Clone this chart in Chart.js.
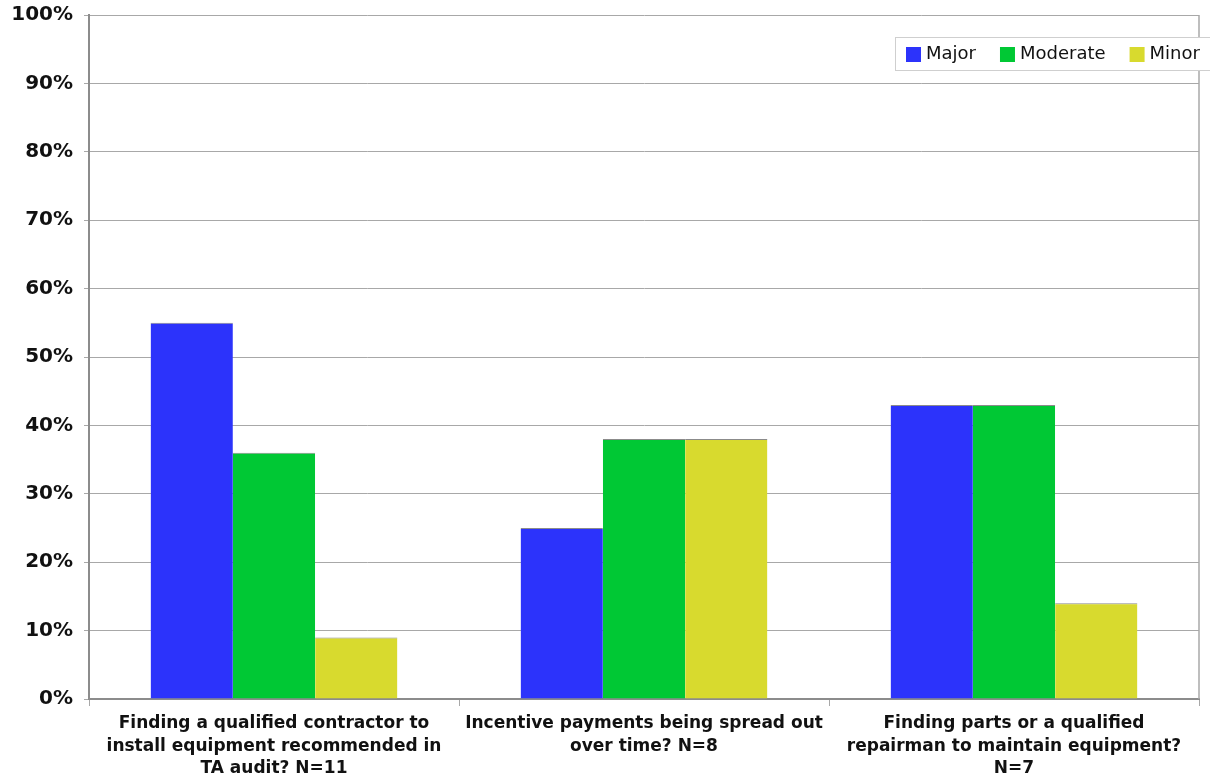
<!DOCTYPE html>
<html>
<head>
<meta charset="utf-8">
<script src="https://cdn.jsdelivr.net/npm/chart.js@4.4.1/dist/chart.umd.min.js"></script>
<style>
  html, body { margin: 0; padding: 0; background: #fff; }
  #wrap { width: 1210px; height: 780px; position: relative; }
</style>
</head>
<body>
<div id="wrap"><canvas id="chart"></canvas></div>
<script>
const categories = [
    ['Finding a qualified contractor to', 'install equipment recommended in', 'TA audit? N=11'],
    ['Incentive payments being spread out', 'over time? N=8'],
    ['Finding parts or a qualified', 'repairman to maintain equipment?', 'N=7']
];
const seriesNames = ['Major', 'Moderate', 'Minor'];
const major = [55, 25, 43];
const moderate = [36, 38, 43];
const minor = [9, 38, 14];
const yTicks = [0, 10, 20, 30, 40, 50, 60, 70, 80, 90, 100];

const colors = ['#2c33fb', '#00c834', '#d8da2e'];
const gridGray = '#a8a8a8';
const axisGray = '#8c8c8c';

// boxed legend sitting over the top right corner of the plot
const boxLegend = {
    id: 'boxLegend',
    afterDraw(chart) {
        const ctx = chart.ctx;
        const left = 895, top = 37, height = 33;
        ctx.save();
        ctx.font = '18px "DejaVu Sans", Verdana, sans-serif';
        ctx.textBaseline = 'middle';
        let x = left + 11;
        const items = chart.data.datasets.map(ds => {
            const w = ctx.measureText(ds.label).width;
            const item = { x: x, label: ds.label, color: ds.backgroundColor };
            x += 20 + w + 24;
            return item;
        });
        ctx.fillStyle = '#fff';
        ctx.fillRect(left, top, 1210 - left, height);
        ctx.strokeStyle = '#cfcfcf';
        ctx.lineWidth = 1;
        ctx.strokeRect(left + 0.5, top + 0.5, 1210 - left, height);
        items.forEach(it => {
            ctx.fillStyle = it.color;
            ctx.fillRect(it.x, top + 10, 15, 15);
            ctx.fillStyle = '#111';
            ctx.fillText(it.label, it.x + 20, top + height / 2 + 1);
        });
        ctx.restore();
    }
};

// right edge of the plot frame
const plotFrame = {
    id: 'plotFrame',
    beforeDatasetsDraw(chart) {
        const a = chart.chartArea;
        const ctx = chart.ctx;
        ctx.save();
        ctx.strokeStyle = gridGray;
        ctx.lineWidth = 1.5;
        ctx.beginPath();
        ctx.moveTo(a.right, a.top);
        ctx.lineTo(a.right, a.bottom);
        ctx.stroke();
        ctx.restore();
    }
};

const values = [major, moderate, minor];

new Chart(document.getElementById('chart'), {
    type: 'bar',
    data: {
        labels: categories,
        datasets: seriesNames.map((name, i) => ({
            label: name,
            data: values[i],
            backgroundColor: colors[i],
            borderColor: 'rgba(90,90,90,0.7)',
            borderWidth: { top: 1, left: 0, right: 0, bottom: 0 },
            borderSkipped: false,
            barPercentage: 1,
            categoryPercentage: 0.667
        }))
    },
    options: {
        responsive: true,
        maintainAspectRatio: false,
        animation: false,
        layout: { padding: { top: 15, right: 11, left: 0, bottom: 0 } },
        plugins: {
            legend: { display: false },
            tooltip: { enabled: false }
        },
        scales: {
            x: {
                afterFit(scale) {
                    scale.height = 81;
                    scale.paddingLeft = 0;
                    scale.paddingRight = 0;
                },
                grid: {
                    drawOnChartArea: false,
                    tickLength: 7,
                    tickColor: gridGray
                },
                border: { color: axisGray, width: 2 },
                ticks: {
                    color: '#111',
                    padding: 7,
                    maxRotation: 0,
                    autoSkip: false,
                    font: { family: '"DejaVu Sans", Verdana, sans-serif', size: 17, weight: 'bold', lineHeight: 1.3 }
                }
            },
            y: {
                min: 0,
                max: 100,
                afterFit(scale) {
                    scale.width = 89;
                    scale.paddingTop = 0;
                    scale.paddingBottom = 0;
                },
                afterBuildTicks(scale) { scale.ticks = yTicks.map(v => ({ value: v })); },
                grid: {
                    color: gridGray,
                    lineWidth: 1,
                    tickLength: 5,
                    tickColor: gridGray
                },
                border: { color: axisGray, width: 2 },
                ticks: {
                    color: '#111',
                    padding: 11,
                    font: { family: '"DejaVu Sans", Verdana, sans-serif', size: 20, weight: 'bold' },
                    callback: v => v + '%'
                }
            }
        }
    },
    plugins: [plotFrame, boxLegend]
});
</script>
</body>
</html>
